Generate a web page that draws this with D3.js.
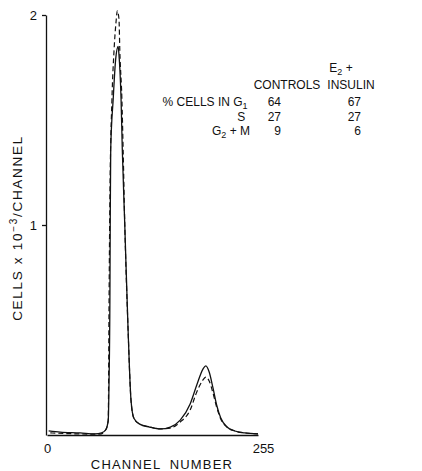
<!DOCTYPE html>
<html>
<head>
<meta charset="utf-8">
<script src="https://cdn.jsdelivr.net/npm/d3@7"></script>
<style>
  body { margin: 0; background: #fff; }
  svg text { font-family: "Liberation Sans", Arial, sans-serif; fill: #111; }
  .axis path, .axis line { stroke: #111; stroke-width: 1.3; }
  .axis text { font-size: 13px; }
</style>
</head>
<body>
<div id="chart"></div>
<script>
// flow cytometry DNA histograms
// [channel, cells x 10^-3 / channel]
var controls = [
  [2, 0.02], [16, 0.014], [40, 0.01], [58, 0.005], [66, 0.01], [71, 0.025],
  [74, 0.07], [75, 0.26], [76, 0.64], [76.4, 1.0], [77, 1.36], [80, 1.6],
  [83, 1.79], [86, 1.85], [87, 1.81], [89.5, 1.6], [91, 1.36], [94, 1.0],
  [98, 0.5], [101.5, 0.167], [105, 0.08], [112, 0.052], [124, 0.038],
  [137, 0.029], [149, 0.038], [161, 0.071], [173, 0.148], [181, 0.238],
  [188.5, 0.314], [192, 0.329], [196, 0.30], [200.6, 0.224], [205, 0.143],
  [210, 0.081], [217.5, 0.038], [227, 0.019], [239, 0.01], [255, 0.005]
];
var e2Insulin = [
  [4, 0.01], [40, 0.005], [64, 0.004], [71, 0.025], [74, 0.07], [75, 0.64],
  [76, 1.12], [78.5, 1.6], [81, 1.83], [83.5, 1.97], [85, 2.02], [87, 1.98],
  [88, 1.83], [90.5, 1.6], [92, 1.36], [94, 1.0], [98, 0.5], [101.5, 0.167],
  [105, 0.08], [112, 0.052], [124, 0.038], [137, 0.029], [149, 0.033],
  [161, 0.062], [173, 0.119], [181, 0.205], [188.5, 0.262], [192, 0.276],
  [196, 0.257], [200.6, 0.2], [205, 0.133], [210, 0.076], [217.5, 0.038],
  [227, 0.019], [239, 0.01], [255, 0.005]
];

var xTicks = [0, 255];
var yTicks = [1, 2];

// inset table
var phases = ["G1", "S", "G2+M"];
var pctControls = [64, 27, 9];
var pctInsulin = [67, 27, 6];

var width = 422, height = 471;

var svg = d3.select("#chart").append("svg")
    .attr("width", width)
    .attr("height", height);

var x = d3.scaleLinear().domain([0, 255]).range([47, 258]);
var y = d3.scaleLinear().domain([0, 2]).range([435, 15]);

// axes
svg.append("g")
    .attr("class", "axis")
    .attr("transform", "translate(46,0)")
    .call(d3.axisLeft(y).tickValues(yTicks).tickSize(4).tickSizeOuter(0).tickPadding(5).tickFormat(d3.format("d")));

var xa = svg.append("g")
    .attr("class", "axis")
    .attr("transform", "translate(0," + y(0) + ")")
    .call(d3.axisBottom(x).tickValues(xTicks).tickSize(0).tickSizeOuter(0).tickPadding(9));
xa.selectAll(".tick text").attr("dx", function(d) { return d == 255 ? "5" : "0"; });
svg.selectAll(".axis .domain").attr("fill", "none");

// curves
var line = d3.line()
    .x(function(d) { return x(d[0]); })
    .y(function(d) { return y(d[1]); })
    .curve(d3.curveMonotoneX);

svg.append("path")
    .datum(controls)
    .attr("d", line)
    .attr("fill", "none")
    .attr("stroke", "#111")
    .attr("stroke-width", 1.3);

svg.append("path")
    .datum(e2Insulin)
    .attr("d", line)
    .attr("fill", "none")
    .attr("stroke", "#111")
    .attr("stroke-width", 1.2)
    .attr("stroke-dasharray", "5,3");

// axis titles
svg.append("text")
    .attr("x", 162).attr("y", 469)
    .attr("text-anchor", "middle")
    .style("font-size", "13px")
    .style("letter-spacing", "1.2px")
    .style("word-spacing", "4px")
    .text("CHANNEL NUMBER");

var yl = svg.append("text")
    .attr("transform", "translate(22,228) rotate(-90)")
    .attr("text-anchor", "middle")
    .style("font-size", "13.5px")
    .style("letter-spacing", "1.7px");
yl.append("tspan").text("CELLS  x  10");
yl.append("tspan").attr("dy", -5).style("font-size", "10px").text("\u22123");
yl.append("tspan").attr("dy", 5).text("/CHANNEL");

// inset table
function sub(sel, main, s, rest) {
  sel.append("tspan").text(main);
  sel.append("tspan").attr("dy", 3).style("font-size", "9px").text(s);
  if (rest) sel.append("tspan").attr("dy", -3).text(rest);
}

var tab = svg.append("g").style("font-size", "12px");
var rowY = [106, 121, 135];

var h1 = tab.append("text").attr("x", 341).attr("y", 72).attr("text-anchor", "middle");
sub(h1, "E", "2", " +");
tab.append("text").attr("x", 287).attr("y", 89).attr("text-anchor", "middle").text("CONTROLS");
tab.append("text").attr("x", 351).attr("y", 89).attr("text-anchor", "middle").text("INSULIN");

phases.forEach(function(p, i) {
  var t = tab.append("text").attr("x", 250).attr("y", rowY[i]).attr("text-anchor", "end");
  if (p == "G1") sub(t, "% CELLS IN  G", "1", "\u2009");
  else if (p == "S") t.text("S\u2009\u2009");
  else sub(t, "G", "2", " + M");
  tab.append("text").attr("x", 281).attr("y", rowY[i]).attr("text-anchor", "end").text(pctControls[i]);
  tab.append("text").attr("x", 361).attr("y", rowY[i]).attr("text-anchor", "end").text(pctInsulin[i]);
});
</script>
</body>
</html>
